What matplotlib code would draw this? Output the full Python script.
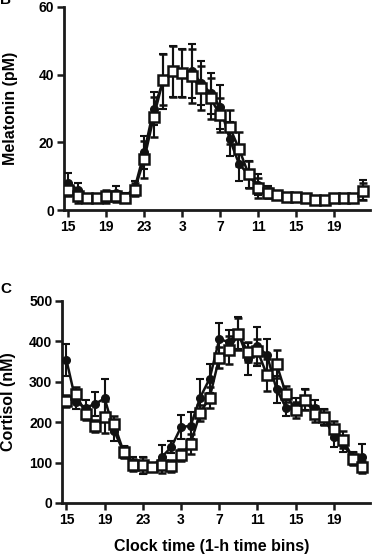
import matplotlib
matplotlib.use('Agg')
import matplotlib.pyplot as plt
import numpy as np

plt.rcParams['font.family'] = ['Liberation Sans', 'DejaVu Sans']
plt.rcParams['font.weight'] = 'bold'

# clock hours, 1-h bins, from 15:00 to 22:00 the next day
hours = list(range(15, 24)) + list(range(0, 23))
tick_idx = [0, 4, 8, 12, 16, 20, 24, 28]
tick_lab = ['15', '19', '23', '3', '7', '11', '15', '19']

# melatonin (pM)
mel_circ = [8, 6, 3.5, 3.5, 3.5, 5, 4, 6.5, 17, 30, 38, 41, 40.5, 41, 37.5, 34.5,
            30.5, 21, 13.5, 10.5, 7.5, 5.5, 4.5, 3.8, 3.8, 3.5, 3, 3, 3.5, 3.5, 3.5, 6]
mel_circ_err = [3, 2, 1, 1, 1, 2, 1, 2, 5, 5, 8, 7.5, 7, 8, 6.5, 6,
                6.5, 5, 5, 4, 3, 1.5, 1, 0.8, 0.8, 0.8, 0.6, 0.6, 0.8, 0.8, 0.8, 3]
mel_sq = [6, 4, 3.5, 3.5, 4, 4, 3.5, 6, 15, 27.5, 38.5, 41, 40.5, 39.5, 36, 33,
          28, 24.5, 18, 10.5, 6.5, 5, 4.5, 3.8, 3.8, 3.5, 3, 3, 3.5, 3.5, 3.5, 5.5]
mel_sq_err = [2, 2, 1, 1, 2, 1.5, 1, 2, 5.5, 6, 7.5, 7.5, 7, 8, 6.5, 6,
              5, 5, 5, 4, 3, 1.5, 1, 0.8, 0.8, 0.8, 0.6, 0.6, 0.8, 0.8, 0.8, 2.5]

# cortisol (nM)
cor_circ = [354, 250, 236, 245, 259, 178, 126, 99, 93, 90, 114, 139, 188, 191, 261, 308,
            405, 399, 420, 357, 388, 366, 281, 236, 240, 256, 234, 212, 164, 145, 110, 114]
cor_circ_err = [40, 18, 20, 30, 49, 25, 15, 15, 20, 10, 29, 15, 30, 33, 47, 35,
                40, 30, 40, 40, 48, 41, 34, 20, 20, 27, 20, 20, 25, 20, 15, 33]
cor_sq = [253, 271, 221, 191, 213, 195, 126, 93, 95, 88, 95, 91, 118, 147, 223, 261,
          360, 378, 418, 374, 377, 317, 344, 269, 230, 256, 221, 213, 182, 157, 110, 89]
cor_sq_err = [15, 15, 15, 15, 40, 20, 15, 15, 20, 10, 20, 15, 15, 25, 20, 25,
              25, 35, 40, 25, 30, 40, 34, 20, 20, 25, 20, 20, 20, 20, 15, 15]

x = np.arange(len(hours))

fig = plt.figure(figsize=(3.72, 5.6), dpi=100)

def panel(rect, circ, circ_err, sq, sq_err, ymax, ystep, ylabel):
  ax = fig.add_axes(rect)
  ax.errorbar(x, circ, yerr=circ_err, color='#111111', lw=1.8, marker='o', ms=5.5,
              mfc='#111111', mec='#111111', elinewidth=1.5, capsize=3, capthick=1.5, zorder=3)
  ax.errorbar(x, sq, yerr=sq_err, color='#111111', lw=1.8, marker='s', ms=7,
              mfc='white', mec='#111111', mew=1.8, elinewidth=1.5, capsize=3, capthick=1.5, zorder=4)
  ax.set_xlim(-0.45, 31.8)
  ax.set_ylim(0, ymax)
  ax.set_yticks(np.arange(0, ymax + 1, ystep))
  ax.set_xticks(tick_idx)
  ax.set_xticklabels(tick_lab)
  for s in ['top', 'right']:
    ax.spines[s].set_visible(False)
  for s in ['left', 'bottom']:
    ax.spines[s].set_linewidth(2)
    ax.spines[s].set_color('#1a1a1a')
  ax.tick_params(direction='out', length=5, width=1.8, labelsize=10, color='#1a1a1a', pad=2)
  for t in ax.get_xticklabels() + ax.get_yticklabels():
    t.set_fontweight('bold')
  ax.set_ylabel(ylabel, fontsize=11.5, fontweight='bold')
  ax.yaxis.set_label_coords(-0.15, 0.5)
  return ax

panel([0.172, 0.625, 0.823, 0.3625], mel_circ, mel_circ_err, mel_sq, mel_sq_err, 60, 20, 'Melatonin (pM)')
panel([0.167, 0.1018, 0.828, 0.3607], cor_circ, cor_circ_err, cor_sq, cor_sq_err, 500, 100, 'Cortisol (nM)')

fig.text(0.0, 1.012, 'B', fontsize=11, fontweight='bold', ha='left', va='top')
fig.text(0.0, 0.497, 'C', fontsize=11, fontweight='bold', ha='left', va='top')
fig.text(0.57, 0.011, 'Clock time (1-h time bins)', fontsize=11.5, fontweight='bold', ha='center', va='bottom')

fig.savefig('out.png', dpi=100)
